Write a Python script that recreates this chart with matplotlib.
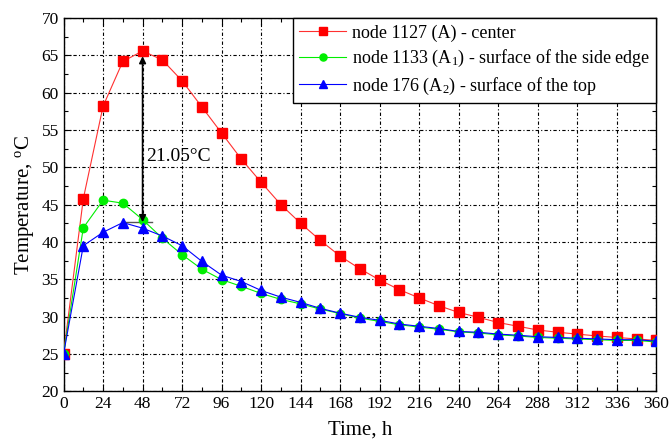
"""
Temperature history at three nodes
"""

import matplotlib
matplotlib.use('Agg')
import matplotlib.pyplot as plt
from matplotlib.ticker import MultipleLocator

plt.rcParams['font.family'] = ['Liberation Serif', 'DejaVu Serif']
plt.rcParams['mathtext.fontset'] = 'custom'
plt.rcParams['mathtext.rm'] = 'Liberation Serif'
plt.rcParams['mathtext.it'] = 'Liberation Serif:italic'

hours = [0, 12, 24, 36, 48, 60, 72, 84, 96, 108, 120, 132, 144, 156, 168,
         180, 192, 204, 216, 228, 240, 252, 264, 276, 288, 300, 312, 324,
         336, 348, 360]

# node 1127 (A) - center
t_center = [25.0, 45.8, 58.2, 64.2, 65.6, 64.4, 61.6, 58.1, 54.6, 51.1,
            48.0, 45.0, 42.5, 40.2, 38.1, 36.4, 34.9, 33.6, 32.5, 31.45,
            30.55, 29.9, 29.2, 28.7, 28.2, 27.9, 27.65, 27.4, 27.2, 27.0,
            26.8]

# node 1133 (A1) - surface of the side edge
t_side = [25.0, 41.9, 45.6, 45.2, 43.0, 40.5, 38.3, 36.35, 34.95, 34.05,
          33.1, 32.3, 31.7, 31.0, 30.4, 29.8, 29.35, 28.9, 28.6, 28.3,
          27.95, 27.8, 27.55, 27.4, 27.2, 27.1, 27.0, 26.9, 26.8, 26.8,
          26.6]

# node 176 (A2) - surface of the top
t_top = [25.0, 39.5, 41.3, 42.6, 41.85, 40.8, 39.5, 37.4, 35.55, 34.7,
         33.5, 32.6, 31.9, 31.1, 30.45, 29.9, 29.5, 29.0, 28.7, 28.4,
         28.0, 27.9, 27.65, 27.5, 27.3, 27.2, 27.1, 27.0, 26.9, 26.9,
         26.7]

labels = ['node 1127 (A) - center',
          'node 1133 (A$_{1}$) - surface of the side edge',
          'node 176 (A$_{2}$) - surface of the top']

x_ticks = [0, 24, 48, 72, 96, 120, 144, 168, 192, 216, 240, 264, 288, 312,
           336, 360]
y_ticks = [20, 25, 30, 35, 40, 45, 50, 55, 60, 65, 70]

# difference annotation (arrow between the two peaks at 48 h)
diff_hour = 48
diff_low, diff_high = 42.65, 64.9
diff_text = '21.05°C'

fig = plt.figure(figsize=(6.69, 4.43), dpi=100)
ax = fig.add_axes([0.095, 0.117, 0.886, 0.842])

ax.plot(hours, t_center, color='#ff3030', lw=0.8, marker='s', ms=6.5,
        mfc='#ff0000', mec='#ff0000', label=labels[0], zorder=3)
ax.plot(hours, t_side, color='#00ee00', lw=0.8, marker='o', ms=6,
        mec='#00ee00', label=labels[1], zorder=3)
ax.plot(hours, t_top, color='#0000ff', lw=0.8, marker='^', ms=7.5,
        mec='#0000ff', label=labels[2], zorder=4)

# arrow + small base line
ax.annotate('', xy=(diff_hour, diff_high), xytext=(diff_hour, diff_low),
            arrowprops=dict(arrowstyle='<|-|>', color='black', lw=1.2,
                            mutation_scale=10, shrinkA=0, shrinkB=0),
            zorder=5)
ax.plot([37, 54], [diff_low, diff_low], color='#555555', lw=1, zorder=2)
ax.text(50, 51.5, diff_text, fontsize=14, ha='left', va='center')

ax.set_xlim(0, 360)
ax.set_ylim(20, 70)
ax.set_xticks(x_ticks)
ax.set_yticks(y_ticks)
ax.xaxis.set_minor_locator(MultipleLocator(12))
ax.yaxis.set_minor_locator(MultipleLocator(2.5))
ax.tick_params(which='both', direction='in', top=True, right=True,
               labelsize=12.5, width=0.8)
ax.tick_params(which='major', length=5)
ax.tick_params(which='minor', length=3)
for s in ax.spines.values():
    s.set_linewidth(1.0)

ax.grid(True, which='major', color='black', lw=0.8,
        linestyle=(0, (3, 2, 1, 2)))

ax.set_xlabel('Time, h', fontsize=15, labelpad=6)
ax.set_ylabel('Temperature, $^{\\mathrm{o}}$C', fontsize=15, labelpad=4)

leg = ax.legend(loc='upper right', fontsize=13, fancybox=False,
                framealpha=1, edgecolor='black', borderaxespad=0,
                handlelength=2.6, handletextpad=0.3, labelspacing=0.35,
                borderpad=0.35, markerscale=0.85)
leg.get_frame().set_linewidth(1.0)

fig.savefig('out.png', dpi=100)
plt.close()
